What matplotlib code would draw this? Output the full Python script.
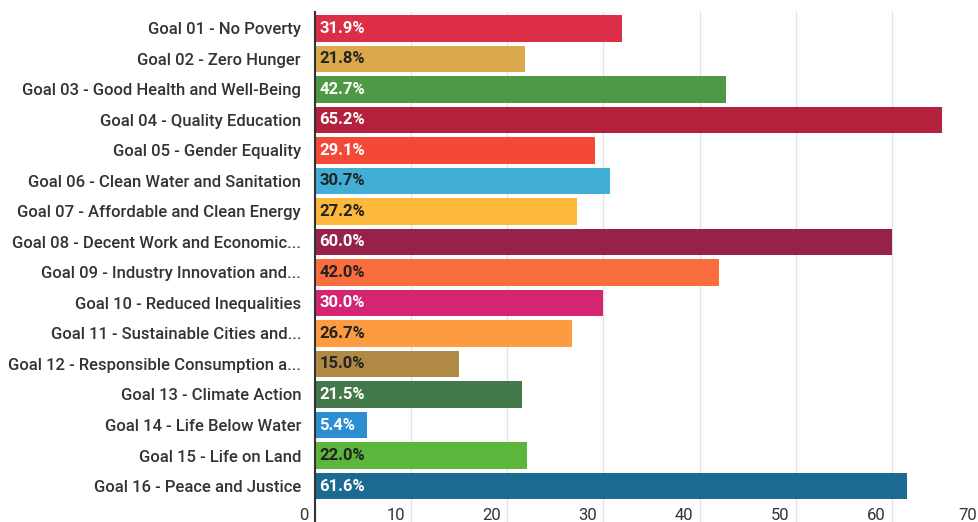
import matplotlib
matplotlib.use("Agg")
import matplotlib.pyplot as plt
import matplotlib.transforms as mtransforms

categories = [
    "Goal 01 - No Poverty",
    "Goal 02 - Zero Hunger",
    "Goal 03 - Good Health and Well-Being",
    "Goal 04 - Quality Education",
    "Goal 05 - Gender Equality",
    "Goal 06 - Clean Water and Sanitation",
    "Goal 07 - Affordable and Clean Energy",
    "Goal 08 - Decent Work and Economic...",
    "Goal 09 - Industry Innovation and...",
    "Goal 10 - Reduced Inequalities",
    "Goal 11 - Sustainable Cities and...",
    "Goal 12 - Responsible Consumption a...",
    "Goal 13 - Climate Action",
    "Goal 14 - Life Below Water",
    "Goal 15 - Life on Land",
    "Goal 16 - Peace and Justice",
]
values = [31.9, 21.8, 42.7, 65.2, 29.1, 30.7, 27.2, 60.0, 42.0, 30.0, 26.7, 15.0, 21.5, 5.4, 22.0, 61.6]
colors = ["#DC2F47", "#D9A94C", "#4F9845", "#B4213D", "#F44936", "#40AED5", "#FBB83A", "#962249",
          "#F96E3C", "#D42573", "#FD9B40", "#B08A45", "#43784A", "#2D8FD2", "#5DB63C", "#1A6A91"]
label_dark = [False, True, False, False, False, True, True, False,
              True, False, True, True, False, False, True, False]
xticks = [0, 10, 20, 30, 40, 50, 60, 70]

plt.rcParams['font.family'] = ['Roboto', 'DejaVu Sans']

W, H = 979, 522
fig = plt.figure(figsize=(W / 100, H / 100), dpi=100)
# axes: left at x=315px, right (70) at 988px, top at 12px, bottom at 522px
ax = fig.add_axes([315 / W, 0, (988 - 315) / W, (522 - 12) / H])

n = len(categories)
ypos = list(range(n))
ax.barh(ypos, values, color=colors, height=0.86, zorder=2)
ax.set_xlim(0, 70)
ax.set_ylim(16.18, -0.54)

ax.set_yticks(ypos)
ax.set_yticklabels(categories, fontsize=12, color="#333333", fontweight='medium')
ax.tick_params(axis='y', length=0, pad=10)
ax.tick_params(axis='x', length=0, labelbottom=False)
ax.set_xticks(xticks)
ax.grid(axis='x', color="#E3E3E3", linewidth=1, zorder=0)
ax.set_axisbelow(True)

for s in ['top', 'right', 'bottom']:
    ax.spines[s].set_visible(False)
ax.spines['left'].set_color("#333333")
ax.spines['left'].set_linewidth(1.5)
ax.spines['left'].set_zorder(3)

for i, (v, dark) in enumerate(zip(values, label_dark)):
    ax.text(0.45, i, f"{v:.1f}%", va='center', ha='left', fontsize=12,
            fontweight='bold', color="#222222" if dark else "white", zorder=4)

for t in xticks:
    shift = -6 if t != xticks[-1] else -11
    offset = mtransforms.ScaledTranslation(shift / 100, 0, fig.dpi_scale_trans)
    trans = mtransforms.blended_transform_factory(ax.transData, fig.transFigure) + offset
    ax.text(t, 7 / H, str(t), transform=trans, ha='right', va='center',
            fontsize=12, color="#333333", clip_on=False)

fig.savefig("out.png", dpi=100)
